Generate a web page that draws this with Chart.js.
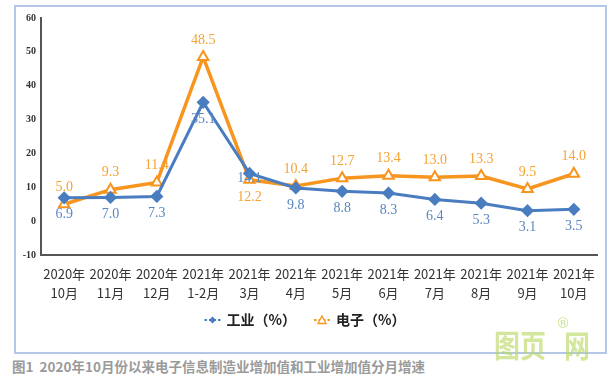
<!DOCTYPE html>
<html>
<head>
<meta charset="utf-8">
<script src="https://cdn.jsdelivr.net/npm/chart.js@4.4.1/dist/chart.umd.min.js"></script>
<style>
  html, body { margin: 0; padding: 0; background: #fff; }
  body { width: 616px; height: 376px; position: relative; overflow: hidden; }
  #frame { position: absolute; left: 14px; top: 5px; width: 589px; height: 345px; border: 2px solid #b4c8e6; }
  #frame canvas { position: absolute; left: 0; top: 0; }
  #caption { position: absolute; left: 12px; top: 356px; font: bold 13.5px "Noto Sans CJK SC", sans-serif; color: #9a9a9a; white-space: nowrap; }
  .mark { position: absolute; top: 326px; font: bold 26px/30px "Noto Sans CJK SC", sans-serif; color: rgba(180, 215, 90, 0.6); white-space: nowrap; transform: scaleY(1.2); transform-origin: top left; }
  #reg { position: absolute; left: 556px; top: 315px; font: 14px "DejaVu Sans", sans-serif; color: rgba(180, 215, 90, 0.7); }
</style>
</head>
<body>
<div id="frame"><canvas id="chart" width="589" height="345"></canvas></div>
<div class="mark" style="left:494px">图页</div>
<div class="mark" style="left:564px">网</div>
<div id="reg">®</div>
<div id="caption">图1&nbsp;&nbsp;2020年10月份以来电子信息制造业增加值和工业增加值分月增速</div>
<script>
// ===============================
// Data
// ===============================

let categories = [
    ["2020年", "10月"], ["2020年", "11月"], ["2020年", "12月"],
    ["2021年", "1-2月"], ["2021年", "3月"], ["2021年", "4月"],
    ["2021年", "5月"], ["2021年", "6月"], ["2021年", "7月"],
    ["2021年", "8月"], ["2021年", "9月"], ["2021年", "10月"]
];

let industry = [6.9, 7.0, 7.3, 35.1, 14.1, 9.8, 8.8, 8.3, 6.4, 5.3, 3.1, 3.5];

let electronics = [5.0, 9.3, 11.4, 48.5, 12.2, 10.4, 12.7, 13.4, 13.0, 13.3, 9.5, 14.0];

let yMin = -10;
let yMax = 60;
let yStep = 10;

// ===============================
// Value labels + legend
// ===============================

function drawMarker(g, x, y, color, shape) {
    g.save();
    g.strokeStyle = color;
    g.lineWidth = 2;
    g.setLineDash([2.5, 2]);
    g.beginPath();
    g.moveTo(x - 8, y);
    g.lineTo(x + 8, y);
    g.stroke();
    g.setLineDash([]);
    if (shape === "rectRot") {
        g.fillStyle = color;
        g.beginPath();
        g.moveTo(x, y - 3.5);
        g.lineTo(x + 3.5, y);
        g.lineTo(x, y + 3.5);
        g.lineTo(x - 3.5, y);
        g.closePath();
        g.fill();
    } else {
        g.fillStyle = "#fff";
        g.lineWidth = 1.3;
        g.beginPath();
        g.moveTo(x, y - 4);
        g.lineTo(x + 4, y + 3.5);
        g.lineTo(x - 4, y + 3.5);
        g.closePath();
        g.fill();
        g.stroke();
    }
    g.restore();
}

let valueLabels = {
    id: "valueLabels",
    afterDatasetsDraw(chart) {
        let ctx = chart.ctx;
        ctx.save();
        ctx.font = "14px 'Liberation Serif', serif";
        ctx.textAlign = "center";
        ctx.textBaseline = "middle";
        chart.data.datasets.forEach((ds, i) => {
            let meta = chart.getDatasetMeta(i);
            ctx.fillStyle = ds.labelColor;
            meta.data.forEach((pt, j) => {
                ctx.fillText(ds.data[j].toFixed(1), pt.x, pt.y + ds.labelOffset[j]);
            });
        });
        ctx.restore();
    },
    afterDraw(chart) {
        let ctx = chart.ctx;
        ctx.save();
        ctx.font = "bold 14px 'Noto Sans CJK SC', sans-serif";
        ctx.textBaseline = "middle";
        ctx.fillStyle = "#222";
        let items = chart.data.datasets.map(ds => ({ ds: ds, w: 22 + ctx.measureText(ds.label).width }));
        let total = items.reduce((s, it) => s + it.w, 0) + 18 * (items.length - 1);
        let x = 289 - total / 2;
        let y = 313;
        items.forEach(it => {
            drawMarker(ctx, x + 8, y, it.ds.borderColor, it.ds.pointStyle);
            ctx.fillText(it.ds.label, x + 22, y);
            x += it.w + 18;
        });
        ctx.restore();
    }
};

let ctx = document.getElementById("chart").getContext("2d");

let chart = new Chart(ctx, {
    type: "line",
    data: {
        labels: categories,
        datasets: [
            {
                label: "工业（%）",
                data: industry,
                borderColor: "#4a7dbf",
                backgroundColor: "#4a7dbf",
                borderWidth: 3,
                pointStyle: "rectRot",
                pointRadius: 4.5,
                pointBackgroundColor: "#4a7dbf",
                pointBorderColor: "#4a7dbf",
                tension: 0,
                labelColor: "#5a86c2",
                labelOffset: [17, 17, 17, 17, 5, 17, 17, 17, 17, 17, 17, 17]
            },
            {
                label: "电子（%）",
                data: electronics,
                borderColor: "#f7951e",
                backgroundColor: "#f7951e",
                borderWidth: 3.5,
                pointStyle: "triangle",
                pointRadius: 6,
                pointBorderWidth: 2,
                pointBackgroundColor: "#ffffff",
                pointBorderColor: "#f7951e",
                tension: 0,
                labelColor: "#f5a332",
                labelOffset: [-17, -17, -17, -17, 17, -17, -17, -17, -17, -17, -17, -17]
            }
        ]
    },
    options: {
        responsive: false,
        animation: false,
        layout: {
            padding: { left: 0, right: 6, top: 10, bottom: 47 }
        },
        plugins: {
            tooltip: { enabled: false },
            legend: { display: false }
        },
        scales: {
            x: {
                offset: true,
                grid: { display: false, drawTicks: false },
                border: { color: "#555", width: 2 },
                ticks: {
                    color: "#333",
                    padding: 9,
                    autoSkip: false,
                    maxRotation: 0,
                    font: { family: "'Noto Sans CJK SC', sans-serif", size: 13, lineHeight: 1.5 }
                },
                afterFit(scale) { scale.height = 50; }
            },
            y: {
                min: yMin,
                max: yMax,
                grid: { display: false, drawTicks: false },
                border: { color: "#555", width: 2 },
                ticks: {
                    stepSize: yStep,
                    color: "#333",
                    padding: 5,
                    font: { family: "'Liberation Serif', serif", size: 10, weight: "bold" }
                },
                afterFit(scale) { scale.width = 25; }
            }
        }
    },
    plugins: [valueLabels]
});
</script>
</body>
</html>
